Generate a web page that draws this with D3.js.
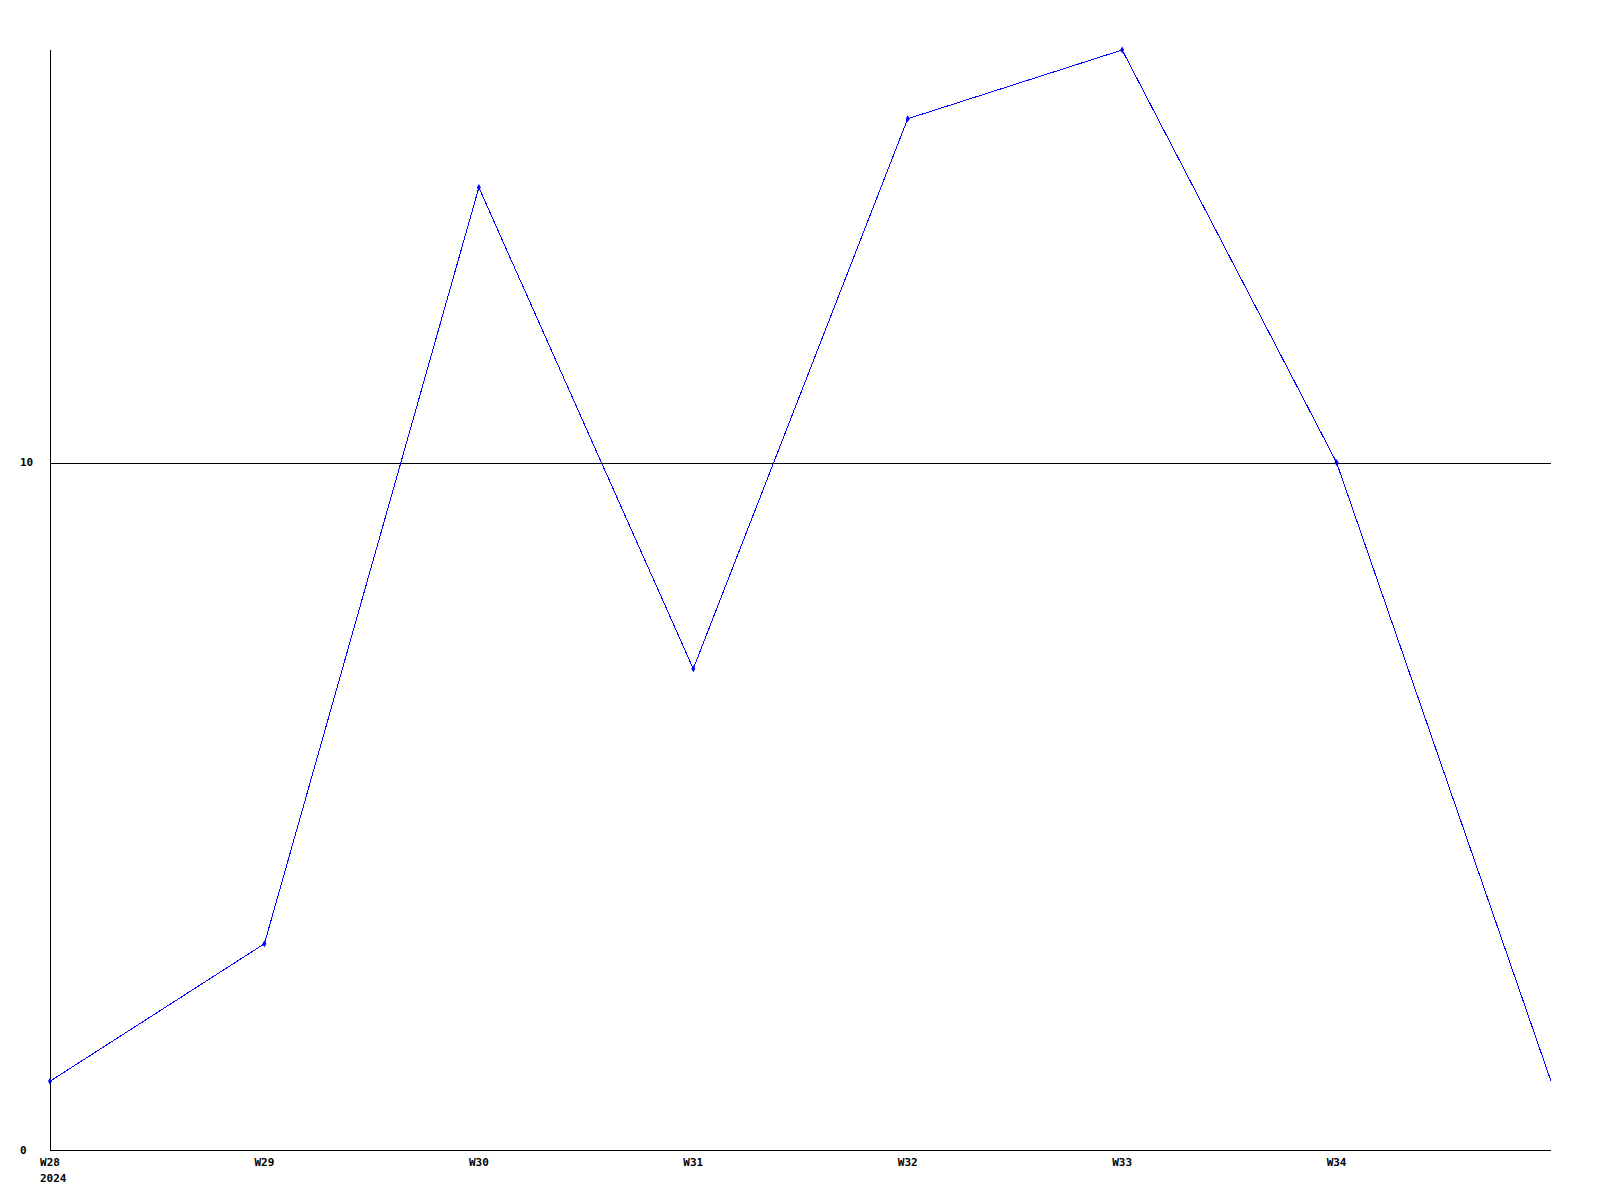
<!DOCTYPE html>
<html>
<head>
<meta charset="utf-8">
<script src="https://cdn.jsdelivr.net/npm/d3@7"></script>
<style>
html,body{margin:0;padding:0;background:#fff;}
svg{display:block;}
text{font-family:"DejaVu Sans Mono","Liberation Mono",monospace;font-weight:bold;font-size:11px;fill:#000;}
</style>
</head>
<body>
<svg id="chart" width="1600" height="1200"></svg>
<script>
const categories = ["W28","W29","W30","W31","W32","W33","W34","W35"];
const values = [1,3,14,7,15,16,10,1];
const xTickLabels = ["W28","W29","W30","W31","W32","W33","W34"];
const yTicks = [0,10];
const yearLabel = "2024";

const svg = d3.select("#chart");
const mLeft = 50, mRight = 1551, mTop = 50, mBottom = 1150;

const x = d3.scalePoint().domain(categories).range([mLeft, mRight]);
const y = d3.scaleLinear().domain([0,16]).range([mBottom, mTop]);

// gridlines
svg.selectAll("line.grid").data(yTicks.filter(d => d !== 0)).enter().append("line")
  .attr("x1", mLeft).attr("x2", mRight)
  .attr("y1", d => Math.round(y(d)) + 0.5).attr("y2", d => Math.round(y(d)) + 0.5)
  .attr("stroke", "#000").attr("stroke-width", 1).attr("shape-rendering","crispEdges");

// axes lines
svg.append("line").attr("x1", mLeft + 0.5).attr("x2", mLeft + 0.5).attr("y1", mTop).attr("y2", mBottom + 1)
  .attr("stroke", "#000").attr("shape-rendering","crispEdges");
svg.append("line").attr("x1", mLeft).attr("x2", mRight).attr("y1", mBottom + 0.5).attr("y2", mBottom + 0.5)
  .attr("stroke", "#000").attr("shape-rendering","crispEdges");

// y labels
svg.selectAll("text.yl").data(yTicks).enter().append("text")
  .attr("x", 20).attr("y", d => y(d)).attr("dy", "0.35em")
  .attr("text-anchor", "start").text(d => d);

// x labels
svg.selectAll("text.xl").data(xTickLabels).enter().append("text")
  .attr("x", d => x(d)).attr("y", mBottom + 16)
  .attr("text-anchor", "middle").text(d => d);
svg.append("text").attr("x", x(categories[0]) - 10).attr("y", mBottom + 32)
  .attr("text-anchor", "start").text(yearLabel);

// line
const line = d3.line().x((d,i) => x(categories[i])).y(d => y(d));
svg.append("path").datum(values).attr("d", line)
  .attr("fill", "none").attr("stroke", "#0000ff").attr("stroke-width", 1)
  .attr("shape-rendering","crispEdges");

// markers
svg.selectAll("path.mk").data(values.slice(0, values.length - 1)).enter().append("path")
  .attr("transform", (d,i) => `translate(${x(categories[i])},${y(d)})`)
  .attr("d", d3.symbol().type(d3.symbolDiamond).size(14))
  .attr("fill", "#0000ff");
</script>
</body>
</html>
